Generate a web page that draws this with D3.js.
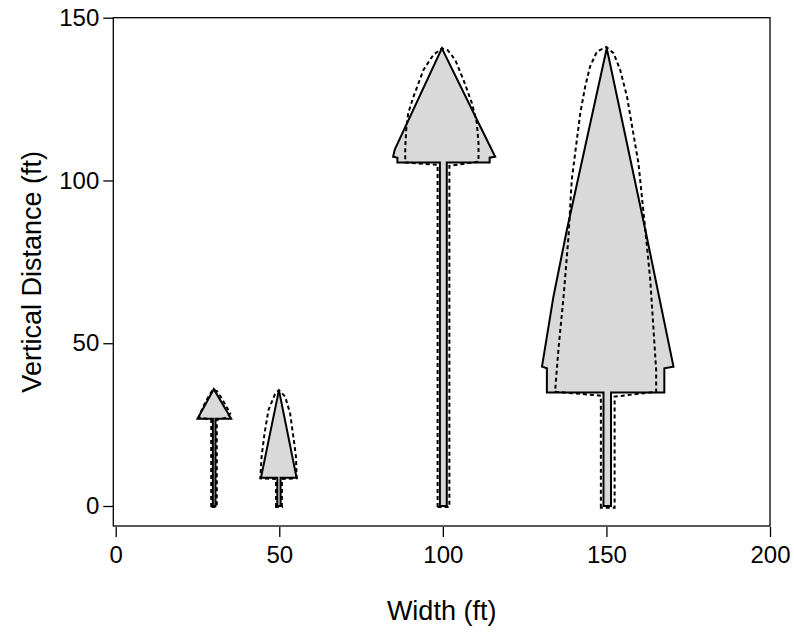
<!DOCTYPE html>
<html>
<head>
<meta charset="utf-8">
<script src="https://cdn.jsdelivr.net/npm/d3@7/dist/d3.min.js"></script>
<style>
  body { margin: 0; background: #fff; }
  svg text { font-family: "Liberation Sans", Arial, sans-serif; fill: #000; }
  .axis path, .axis line { stroke: #000; stroke-width: 1.3; }
</style>
</head>
<body>
<div id="chart"></div>
<script>
// Outline of each tree in feet, [width, height]. "solid" is the filled
// profile, "dashed" is the second profile drawn on top of it.
var tree30Solid = [[29.7,0],[29.7,26.8],[25,26.8],[30,35.9],[35.3,26.8],[30.5,26.8],[30.5,0]];
var tree30Dashed = [[29.2,-0.3],[29.2,26.5],[25.4,27.2],[26.5,30],[27.8,32.6],[29.7,35.8],[31,35.2],
  [32.4,33.1],[33.8,30.6],[35,28.5],[34.2,27.2],[30.9,26.5],[30.9,-0.3]];

var tree50Solid = [[49.4,0],[49.4,8.7],[44.4,8.7],[49.9,35.6],[55.3,8.7],[50.4,8.7],[50.4,0]];
var tree50Dashed = [[49,-0.3],[49,8.3],[44.2,8.5],[44.6,15.2],[45.5,22.3],[46.7,29.5],[48.7,34.4],
  [49.9,35.6],[51.8,33.6],[53.3,28.5],[54.3,21.3],[55.1,15.2],[55.3,8.5],[50.8,8.3],[50.8,-0.3]];

var tree100Solid = [[99.1,0],[99.1,105.5],[86.1,105.5],[86.1,107],[84.8,107.3],[85.3,109.5],
  [99.7,140.6],[116,107.3],[114.3,107],[114.3,105.5],[101.2,105.5],[101.2,0]];
var tree100Dashed = [[98.4,-0.3],[98.4,104.8],[88.5,105.5],[88.5,110],[88.8,115.5],[89.4,120.6],
  [91,125.7],[94.1,134],[97.1,138.6],[99.7,140.6],[101.5,140],[103.8,137],[106.3,130.9],
  [108.9,123.7],[110.4,117.6],[110.9,111.4],[110.9,105.8],[102,104.5],[102,-0.3]];

var tree150Solid = [[149.1,0],[149.1,34.9],[131.8,34.9],[131.8,42.3],[130.3,42.8],[133.8,64.3],
  [137.9,84.8],[150.1,140.6],[161.9,84.8],[166.1,64.3],[170.5,42.8],[167.7,42.3],[167.7,34.9],
  [151.4,34.9],[151.4,0]];
var tree150Dashed = [[148.3,-0.5],[148.3,33.9],[134.3,35.1],[135.4,48.9],[136.9,64.3],[138.4,82.7],
  [139.4,100.2],[142,120.6],[143.5,128.8],[145,135],[147.1,139.6],[150,141],[152.2,139.1],
  [154.2,134],[156.3,125.7],[159.8,105.2],[162.1,82.7],[163.4,69.4],[164.4,54.1],[165.2,41.8],
  [165.2,35.1],[152.5,33.6],[152.5,-0.5]];

var solidShapes = [tree30Solid, tree50Solid, tree100Solid, tree150Solid];
var dashedShapes = [tree30Dashed, tree50Dashed, tree100Dashed, tree150Dashed];

var xTicks = [0, 50, 100, 150, 200];
var yTicks = [0, 50, 100, 150];

var width = 794;
var height = 635;

// plot box (R style: box slightly larger than the data range)
var box = { left: 113.3, right: 770, top: 17.7, bottom: 526 };

var xScale = d3.scaleLinear().domain([0, 200]).range([115.7, 770]);
var yScale = d3.scaleLinear().domain([0, 150]).range([506, 17.7]);

var svg = d3.select("#chart")
  .append("svg")
  .attr("width", width)
  .attr("height", height);

var line = d3.line()
  .x(d => xScale(d[0]))
  .y(d => yScale(d[1]))
  .curve(d3.curveLinearClosed);

// filled profiles
svg.append("g")
  .attr("class", "solid")
  .selectAll("path")
  .data(solidShapes)
  .enter()
  .append("path")
  .attr("d", d => line(d))
  .attr("fill", "#d9d9d9")
  .attr("stroke", "#000")
  .attr("stroke-width", 2)
  .attr("stroke-linejoin", "miter");

// dashed profiles
svg.append("g")
  .attr("class", "dashed")
  .selectAll("path")
  .data(dashedShapes)
  .enter()
  .append("path")
  .attr("d", d => line(d))
  .attr("fill", "none")
  .attr("stroke", "#000")
  .attr("stroke-width", 2)
  .attr("stroke-dasharray", "4,3");

// box
svg.append("rect")
  .attr("x", box.left)
  .attr("y", box.top)
  .attr("width", box.right - box.left)
  .attr("height", box.bottom - box.top)
  .attr("fill", "none")
  .attr("stroke", "#000")
  .attr("stroke-width", 1.3);

// axes
var xAxis = d3.axisBottom(xScale)
  .tickValues(xTicks)
  .tickSize(10)
  .tickPadding(9)
  .tickSizeOuter(0);

var yAxis = d3.axisLeft(yScale)
  .tickValues(yTicks)
  .tickSize(10)
  .tickPadding(4)
  .tickSizeOuter(0);

var gx = svg.append("g")
  .attr("class", "x axis")
  .attr("transform", `translate(0,${box.bottom + 1})`)
  .call(xAxis);
gx.select(".domain").remove();
gx.selectAll("text").attr("font-size", 24);

var gy = svg.append("g")
  .attr("class", "y axis")
  .attr("transform", `translate(${box.left},0)`)
  .call(yAxis);
gy.select(".domain").remove();
gy.selectAll("text").attr("font-size", 24);

// axis titles
svg.append("text")
  .attr("x", (box.left + box.right) / 2)
  .attr("y", 620)
  .attr("text-anchor", "middle")
  .attr("font-size", 27)
  .text("Width (ft)");

svg.append("text")
  .attr("transform", `translate(41,${(box.top + box.bottom) / 2}) rotate(-90)`)
  .attr("text-anchor", "middle")
  .attr("font-size", 27)
  .text("Vertical Distance (ft)");
</script>
</body>
</html>
